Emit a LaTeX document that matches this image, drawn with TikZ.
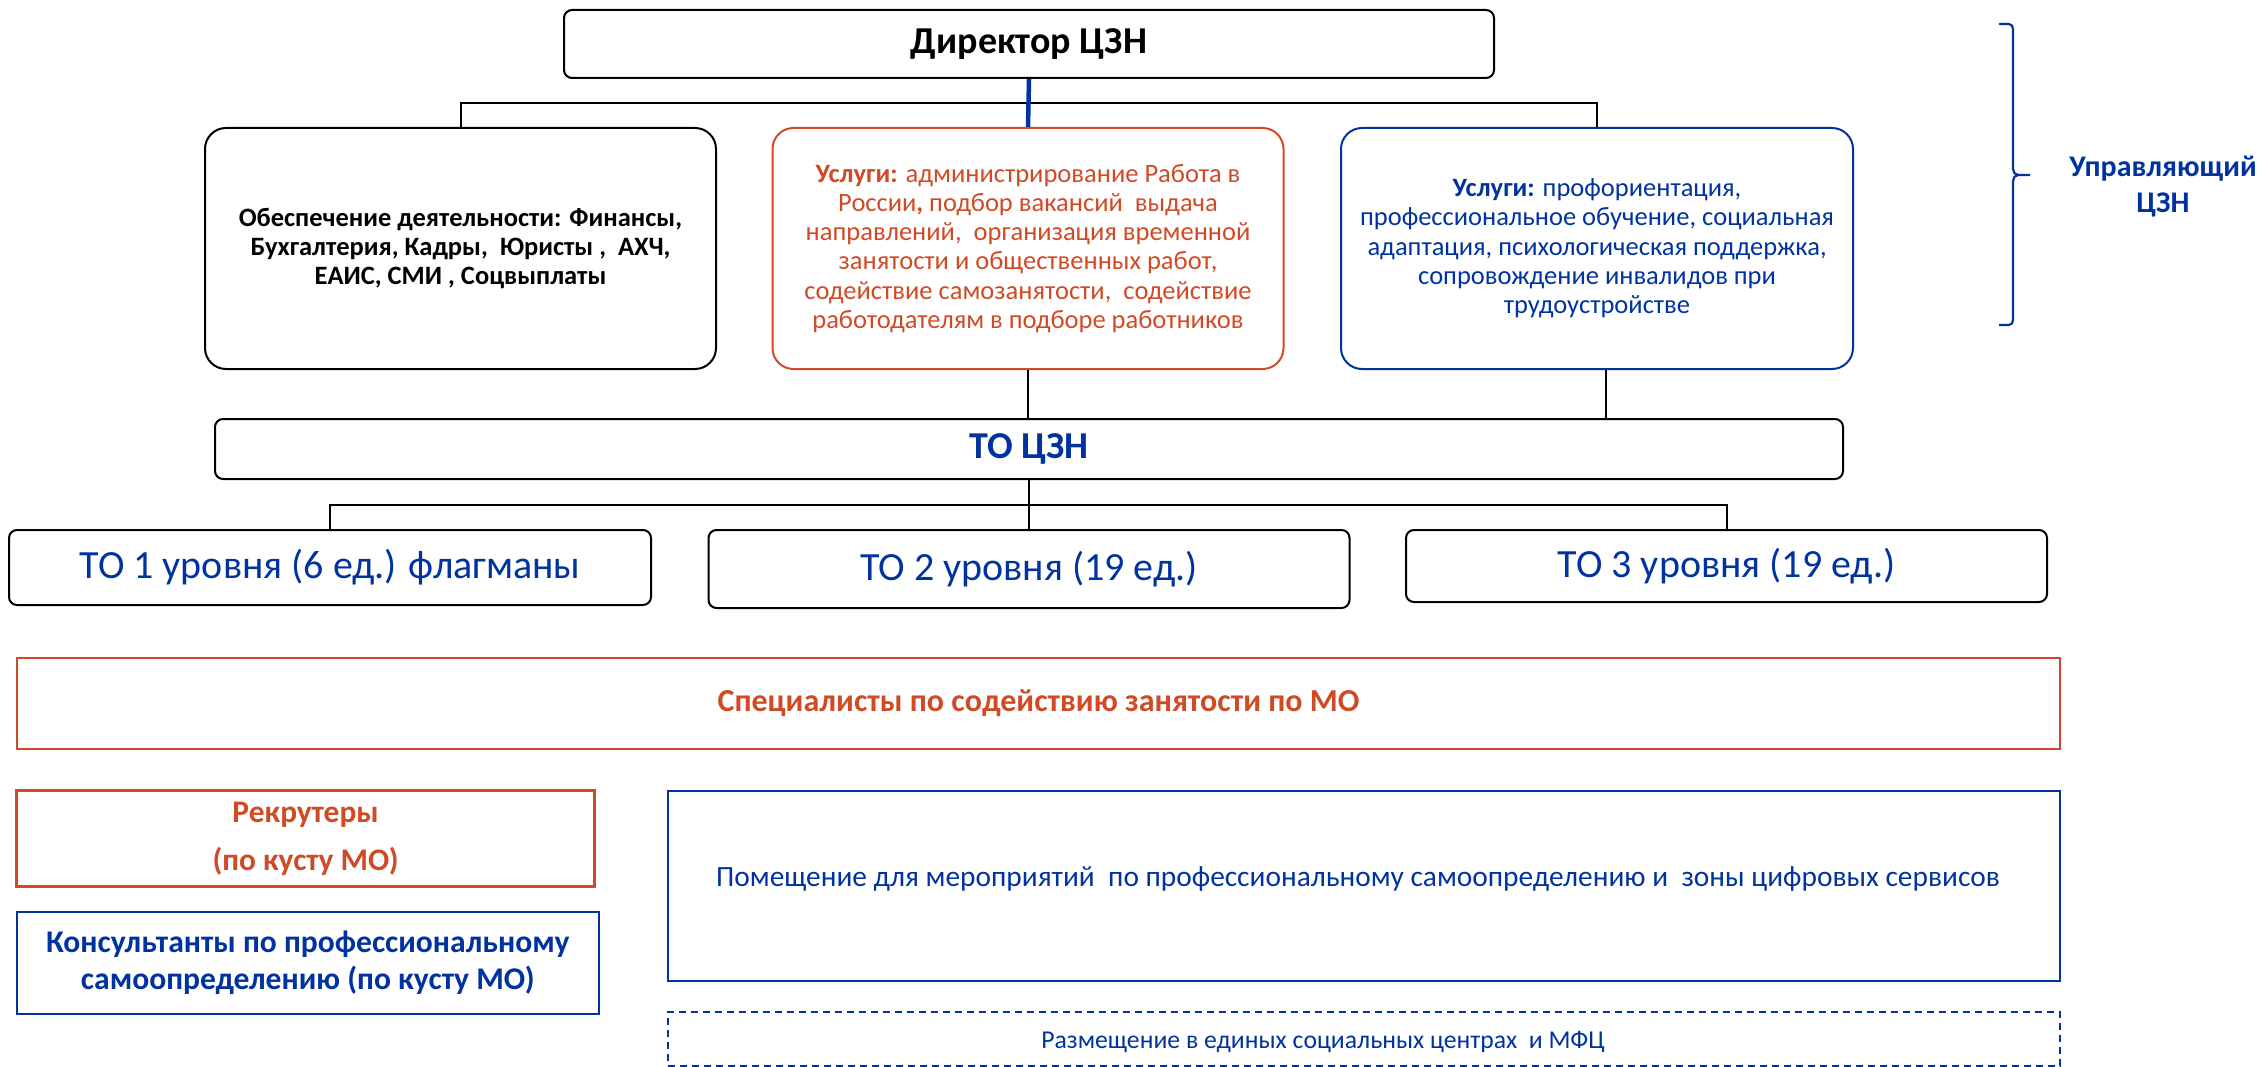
\documentclass[tikz,border=0pt]{standalone}
\usepackage{fontspec}
\setmainfont{Carlito}
\usetikzlibrary{calc}
\definecolor{zblue}{HTML}{0033A0}
\definecolor{zorange}{HTML}{D04A26}
\begin{document}
\begin{tikzpicture}[x=1pt,y=-1pt,
  boxbase/.style={draw, line width=2pt, align=center, inner sep=0pt},
  rbox/.style={boxbase, rounded corners=8pt},
  bigbox/.style={boxbase, rounded corners=21pt},
  sqbox/.style={boxbase, line width=2.5pt},
  conn/.style={line width=2pt},
  blueconn/.style={draw=zblue, line width=4.5pt},
  fA/.style={font=\fontsize{26.5}{29.3}\selectfont},
]
\useasboundingbox (0,0) rectangle (2260,1067);

% top level
\node[rbox, minimum width=930pt, minimum height=68pt, font=\fontsize{38}{44}\selectfont\bfseries] (dir) at (1029,44) {Директор ЦЗН};

\node[bigbox, minimum width=511pt, minimum height=241pt, font=\fontsize{26.5}{29.3}\selectfont\bfseries] (obesp) at (460.5,248.5)
 {Обеспечение деятельности: Финансы,\\ Бухгалтерия, Кадры,\ \ Юристы ,\ \ АХЧ,\\ ЕАИС, СМИ , Соцвыплаты};
\node[bigbox, draw=zorange, text=zorange, minimum width=511pt, minimum height=241pt, fA] (usl) at (1028,248.5)
 {\textbf{Услуги:} администрирование Работа в\\ России\textbf{,} подбор вакансий\ \ выдача\\ направлений,\ \ организация временной\\ занятости и общественных работ,\\ содействие самозанятости,\ \ содействие\\ работодателям в подборе работников};
\node[bigbox, draw=zblue, text=zblue, minimum width=512pt, minimum height=241pt, fA] (ruk) at (1597,248.5)
 {\textbf{Услуги:} профориентация,\\ профессиональное обучение, социальная\\ адаптация, психологическая поддержка,\\ сопровождение инвалидов при\\ трудоустройстве};

\coordinate (jn1) at (1029,103);
\draw[conn] (dir.south) -- (jn1);
\draw[conn] (obesp.north) |- (jn1) -| (ruk.north);
\draw[blueconn] (dir.south) -- (usl.north);

% brace and label
\draw[zblue, line width=2.2pt, line join=round]
  (1999,24) -- (2009,24) to[out=0,in=90] (2013,29) -- (2013,169) to[out=-90,in=180] (2018,175) -- (2030,175);
\draw[zblue, line width=2.2pt, line join=round]
  (2018,175) to[out=180,in=90] (2013,181) -- (2013,320) to[out=-90,in=0] (2009,325) -- (1999,325);
\node[align=center, text=zblue, font=\fontsize{30}{36}\selectfont\bfseries] (upr) at (2163,187) {Управляющий\\ ЦЗН};

% TO CZN
\node[rbox, minimum width=1628pt, minimum height=60pt, text=zblue, font=\fontsize{38}{44}\selectfont\bfseries] (to) at (1029,449) {ТО ЦЗН};
\draw[conn] (usl.south) -- (usl.south |- to.north);
\draw[conn] ([xshift=9pt]ruk.south) -- ([xshift=9pt]ruk.south |- to.north);

\node[rbox, minimum width=642pt, minimum height=75pt, text=zblue, font=\fontsize{40}{46}\selectfont] (to1) at (330,567.5) {ТО 1 уровня (6 ед.) флагманы};
\node[rbox, minimum width=641pt, minimum height=78pt, text=zblue, font=\fontsize{40}{46}\selectfont] (to2) at (1029,569) {ТО 2 уровня (19 ед.)};
\node[rbox, minimum width=641pt, minimum height=72pt, text=zblue, font=\fontsize{40}{46}\selectfont] (to3) at (1726.5,566) {ТО 3 уровня (19 ед.)};

\coordinate (jn2) at (1029,505);
\draw[conn] (to.south) -- (jn2);
\draw[conn] (to1.north) |- (jn2) -| (to3.north);
\draw[conn] (jn2) -- (to2.north);

% lower part
\node[sqbox, draw=zorange, text=zorange, minimum width=2043pt, minimum height=91pt, font=\fontsize{32}{38}\selectfont\bfseries] (spec) at (1038.5,703.5) {Специалисты по содействию занятости по МО};

\node[sqbox, draw=zorange, text=zorange, minimum width=578pt, minimum height=96pt, font=\fontsize{31.4}{48}\selectfont\bfseries] (rec) at (305.6,838.7) {Рекрутеры\\ (по кусту МО)};
\node[sqbox, draw=zblue, text=zblue, minimum width=582pt, minimum height=102pt, font=\fontsize{31.6}{37}\selectfont\bfseries] (cons) at (307.8,963) {Консультанты по профессиональному\\ самоопределению (по кусту МО)};

\node[sqbox, draw=zblue, minimum width=1392pt, minimum height=190pt] (room) at (1364,886) {};
\node[text=zblue, font=\fontsize{29.4}{34}\selectfont, inner sep=0pt] (roomtxt) at (1358,879) {Помещение для мероприятий\ \ по профессиональному самоопределению и\ \ зоны цифровых сервисов};

\node[boxbase, draw=zblue, dashed, dash pattern=on 7pt off 5pt, minimum width=1392pt, minimum height=54pt] (mfc) at (1364,1039) {};
\node[text=zblue, font=\fontsize{25.7}{30}\selectfont, inner sep=0pt] (mfctxt) at (1323,1042) {Размещение в единых социальных центрах\ \ и МФЦ};
\end{tikzpicture}
\end{document}
